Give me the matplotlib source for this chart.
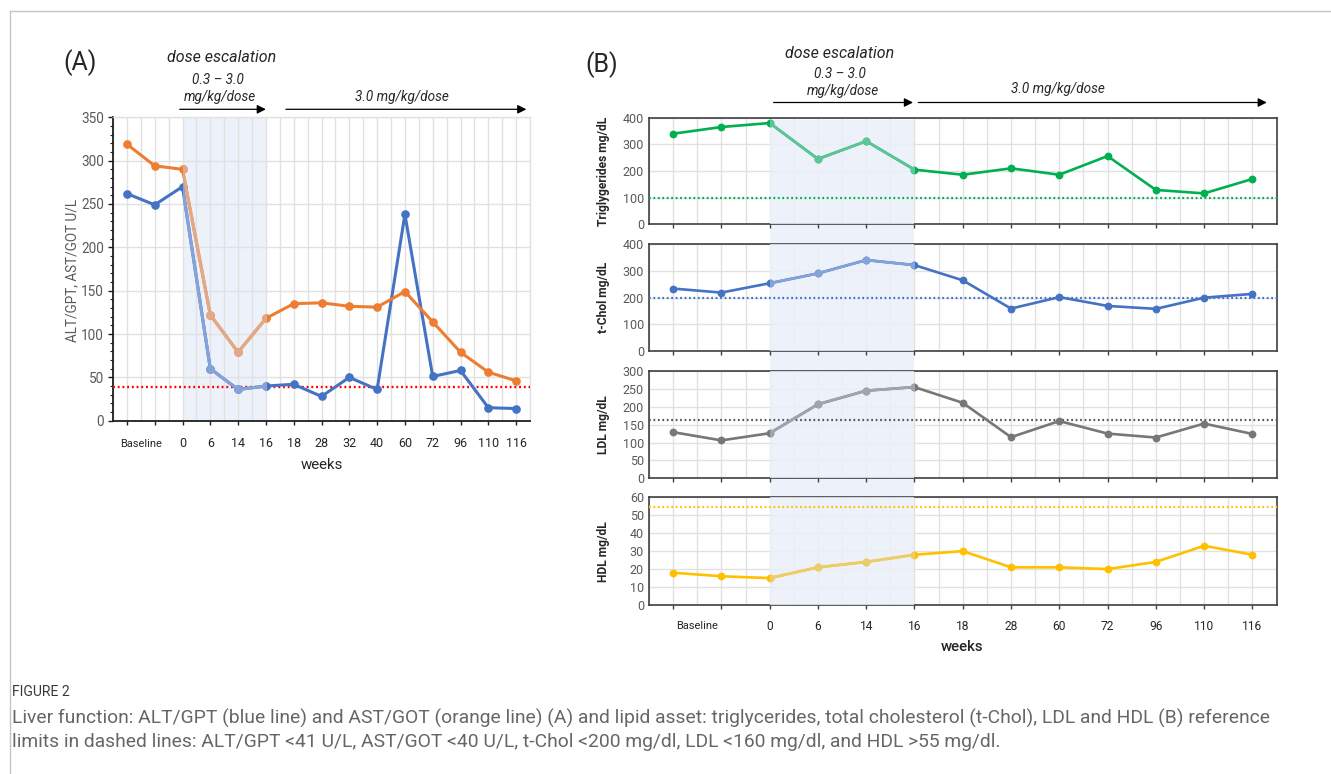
import matplotlib
matplotlib.use('Agg')
import matplotlib.pyplot as plt
import matplotlib.patches as mpatches
import matplotlib.transforms as mtransforms
from matplotlib.lines import Line2D
from matplotlib.ticker import MultipleLocator
import matplotlib.colors as mcolors

# ---------------- data ----------------
weeks_a = ['Baseline', '', '0', '6', '14', '16', '18', '28', '32', '40', '60', '72', '96', '110', '116']
alt_gpt = [262, 249, 270, 60, 36, 40, 42, 28, 50, 36, 238, 51, 58, 15, 14]
ast_got = [319, 294, 290, 122, 79, 118, 135, 136, 132, 131, 149, 114, 79, 56, 46]
ref_a = 39

weeks_b = ['Baseline', '', '0', '6', '14', '16', '18', '28', '60', '72', '96', '110', '116']
trig = [340, 365, 380, 245, 312, 205, 186, 210, 186, 256, 129, 116, 170]
tchol = [234, 219, 254, 291, 341, 322, 265, 159, 202, 169, 158, 200, 214]
ldl = [129, 106, 126, 207, 245, 255, 211, 115, 160, 125, 114, 153, 124]
hdl = [18, 16, 15, 21, 24, 28, 30, 21, 21, 20, 24, 33, 28]
ref_trig, ref_tchol, ref_ldl, ref_hdl = 98, 197, 162, 54.6

caption_title = 'FIGURE 2'
caption_1 = ('Liver function: ALT/GPT (blue line) and AST/GOT (orange line) (A) and lipid asset: '
             'triglycerides, total cholesterol (t-Chol), LDL and HDL (B) reference')
caption_2 = ('limits in dashed lines: ALT/GPT <41 U/L, AST/GOT <40 U/L, t-Chol <200 mg/dl, '
             'LDL <160 mg/dl, and HDL >55 mg/dl.')

# ---------------- style ----------------
W, H, DPI = 1331, 774, 100
FONT = ['Roboto', 'DejaVu Sans']
plt.rcParams['font.family'] = FONT
SHADE = '#EDF2FA'
GRID = '#E1E1E1'
TICKC = '#595959'
DARK = '#404040'
TXT = '#262626'


def pt(px):
    return px * 72.0 / DPI


def fx(x):
    return x / W


def fy(y):
    return 1 - y / H


def rect(l, t, r, b):
    return [l / W, 1 - b / H, (r - l) / W, (b - t) / H]


def lighten(c, a=0.45, over=(210 / 255, 222 / 255, 240 / 255)):
    r, g, b = mcolors.to_rgb(c)
    return tuple(a * o + (1 - a) * v for o, v in zip(over, (r, g, b)))


fig = plt.figure(figsize=(W / DPI, H / DPI), dpi=DPI)
fig.patch.set_facecolor('white')

# frame lines of the figure box
fig.add_artist(Line2D([fx(10), fx(10)], [fy(11), 0], color='#C4C4C4', lw=1.0))
fig.add_artist(Line2D([fx(10), 1], [fy(11), fy(11)], color='#C4C4C4', lw=1.0))


def draw_series(ax, xs, ys, color, lw, ms, s0, s1):
    ax.plot(xs, ys, color=color, lw=lw, marker='o', ms=ms, zorder=4,
            solid_joinstyle='round', solid_capstyle='round')
    ln, = ax.plot(xs, ys, color=lighten(color), lw=lw, marker='o', ms=ms, zorder=5,
                  solid_joinstyle='round', solid_capstyle='round')
    tr = mtransforms.blended_transform_factory(ax.transData, ax.transAxes)
    clip = mpatches.Rectangle((s0, -0.2), s1 - s0, 1.4, transform=tr)
    ln.set_clip_path(clip)


# ================= Panel A =================
xa = list(range(len(weeks_a)))
a0, a1 = weeks_a.index('0'), weeks_a.index('16')
axA = fig.add_axes(rect(113, 117.3, 530, 420.7))
axA.set_xlim(-0.5, len(weeks_a) - 0.5)
axA.set_ylim(0, 350)
axA.set_axisbelow(True)
axA.axvspan(a0, a1, color=SHADE, zorder=0.3, lw=0)
axA.set_yticks(range(0, 351, 50))
axA.yaxis.set_minor_locator(MultipleLocator(10))
axA.set_xticks(xa)
axA.set_xticklabels([l if l != 'Baseline' else '' for l in weeks_a])
axA.xaxis.set_minor_locator(MultipleLocator(0.5))
axA.grid(axis='y', which='major', color=GRID, lw=1.0)
axA.grid(axis='x', which='both', color=GRID, lw=1.0)
for s in ['left', 'bottom']:
    axA.spines[s].set_color('#1F1F1F')
    axA.spines[s].set_linewidth(1.3)
for s in ['top', 'right']:
    axA.spines[s].set_color(GRID)
    axA.spines[s].set_linewidth(1.0)
axA.tick_params(axis='y', which='major', length=pt(5), width=1.0, color='#1F1F1F',
                labelsize=pt(13.5), labelcolor=TICKC, pad=pt(4))
axA.tick_params(axis='y', which='minor', length=pt(3), width=0.8, color='#1F1F1F')
axA.tick_params(axis='x', which='major', length=pt(4), width=1.0, color='#1F1F1F',
                labelsize=pt(12.5), labelcolor=TXT, pad=pt(12))
axA.tick_params(axis='x', which='minor', length=0)
axA.annotate('Baseline', xy=(0.5, 0), xycoords=('data', 'axes fraction'),
             xytext=(0, -pt(23.5)), textcoords='offset points', ha='center', va='center',
             fontsize=pt(11), color=TXT, annotation_clip=False)
axA.axhline(ref_a, color='#FF0000', lw=1.7, ls=(0, (0.8, 1.2)), zorder=3)
draw_series(axA, xa, alt_gpt, '#4472C4', 2.2, 5.2, a0, a1)
draw_series(axA, xa, ast_got, '#ED7D31', 2.2, 5.2, a0, a1)
fig.text(fx(72), fy(270), 'ALT/GPT, AST/GOT U/L', rotation=90, ha='center', va='center',
         fontsize=pt(13.5), color=TICKC)
fig.text(fx(321.5), fy(465), 'weeks', ha='center', va='center', fontsize=pt(15), color=TXT)

# annotations A
fig.text(fx(80), fy(63), '(A)', ha='center', va='center', fontsize=pt(25), color=TXT)
fig.text(fx(222), fy(58), 'dose escalation', ha='center', va='center', fontsize=pt(16),
         style='italic', color=TXT)
fig.text(fx(218), fy(80), '0.3 \u2013 3.0', ha='center', va='center', fontsize=pt(13.5),
         style='italic', color=TXT)
fig.text(fx(220), fy(97), 'mg/kg/dose', ha='center', va='center', fontsize=pt(13.5),
         style='italic', color=TXT)
fig.text(fx(402), fy(97), '3.0 mg/kg/dose', ha='center', va='center', fontsize=pt(13.5),
         style='italic', color=TXT)
arrow_kw = dict(arrowstyle='-|>', color='black', lw=0.9, mutation_scale=13,
                shrinkA=0, shrinkB=0)
axA.annotate('', xy=(a1, fy(109.3)), xytext=(a0 - 0.1, fy(109.3)),
             xycoords=('data', 'figure fraction'), textcoords=('data', 'figure fraction'),
             arrowprops=arrow_kw, annotation_clip=False)
axA.annotate('', xy=(14.37, fy(109.3)), xytext=(a1 + 0.72, fy(109.3)),
             xycoords=('data', 'figure fraction'), textcoords=('data', 'figure fraction'),
             arrowprops=arrow_kw, annotation_clip=False)

# ================= Panel B =================
xb = list(range(len(weeks_b)))
b0, b1 = weeks_b.index('0'), weeks_b.index('16')
panels = [
    (trig, 'Triglygerides mg/dL', 400, 100, ref_trig, '#00B050', (117.7, 224.3), '#00B050'),
    (tchol, 't-Chol mg/dL', 400, 100, ref_tchol, '#4472C4', (244.3, 351.0), '#4472C4'),
    (ldl, 'LDL mg/dL', 300, 50, ref_ldl, '#777777', (371.0, 478.3), '#595959'),
    (hdl, 'HDL mg/dL', 60, 10, ref_hdl, '#FFC000', (497.3, 605.0), '#FFC000'),
]
L, R = 649, 1276.5
axesB = []
for i, (vals, lab, ymax, step, ref, col, (t, b), refcol) in enumerate(panels):
    ax = fig.add_axes(rect(L, t, R, b))
    ax.set_facecolor('none')
    ax.set_xlim(-0.5, len(weeks_b) - 0.5)
    ax.set_ylim(0, ymax)
    ax.set_axisbelow(True)
    ax.set_yticks(range(0, ymax + 1, step))
    ax.set_xticks(xb)
    ax.xaxis.set_minor_locator(MultipleLocator(0.5))
    ax.grid(axis='y', which='major', color=GRID, lw=1.0)
    ax.grid(axis='x', which='both', color=GRID, lw=1.0)
    for s in ax.spines.values():
        s.set_color(DARK)
        s.set_linewidth(1.2)
    ax.tick_params(axis='y', length=0, labelsize=pt(12.5), labelcolor=TICKC, pad=pt(5))
    ax.tick_params(axis='x', which='major', length=pt(4), width=1.0, color=DARK,
                   labelsize=pt(12), labelcolor=TXT, pad=pt(11))
    ax.tick_params(axis='x', which='minor', length=0)
    top_frac = 1.0 if i > 0 else 1 - (120 - t) / (b - t)
    ax.axvspan(b0, b1, ymin=0, ymax=top_frac, color=SHADE, alpha=0.8, zorder=2.6, lw=0)
    ax.axhline(ref, color=refcol, lw=1.6, ls=(0, (0.8, 1.2)), zorder=3)
    draw_series(ax, xb, vals, col, 1.9, 4.6, b0, b1)
    if i < 3:
        ax.set_xticklabels([])
    else:
        ax.set_xticklabels([l if l != 'Baseline' else '' for l in weeks_b])
        ax.annotate('Baseline', xy=(0.5, 0), xycoords=('data', 'axes fraction'),
                    xytext=(0, -pt(21)), textcoords='offset points', ha='center', va='center',
                    fontsize=pt(11), color=TXT, annotation_clip=False)
    fig.text(fx(603), fy((t + b) / 2), lab, rotation=90, ha='center', va='center',
             fontsize=pt(12), color=TXT, fontweight='bold')
    axesB.append(ax)

# shading behind, continuous through the gaps
axT = axesB[0]
trB = mtransforms.blended_transform_factory(axT.transData, fig.transFigure)
fig.add_artist(mpatches.Rectangle((b0, fy(605)), b1 - b0, fy(120) - fy(605),
                                  transform=trB, color=SHADE, lw=0, zorder=-1))

fig.text(fx(962), fy(647), 'weeks', ha='center', va='center', fontsize=pt(15),
         color=TXT, fontweight='medium')

fig.text(fx(602), fy(65), '(B)', ha='center', va='center', fontsize=pt(25), color=TXT)
fig.text(fx(840), fy(53), 'dose escalation', ha='center', va='center', fontsize=pt(16),
         style='italic', color=TXT)
fig.text(fx(840), fy(73.5), '0.3 \u2013 3.0', ha='center', va='center', fontsize=pt(13.5),
         style='italic', color=TXT)
fig.text(fx(843), fy(91.5), 'mg/kg/dose', ha='center', va='center', fontsize=pt(13.5),
         style='italic', color=TXT)
fig.text(fx(1058), fy(89.5), '3.0 mg/kg/dose', ha='center', va='center', fontsize=pt(13.5),
         style='italic', color=TXT)
axT.annotate('', xy=(b1 - 0.03, fy(102.5)), xytext=(b0 + 0.08, fy(102.5)),
             xycoords=('data', 'figure fraction'), textcoords=('data', 'figure fraction'),
             arrowprops=arrow_kw, annotation_clip=False)
axT.annotate('', xy=(12.3, fy(102.5)), xytext=(b1 + 0.08, fy(102.5)),
             xycoords=('data', 'figure fraction'), textcoords=('data', 'figure fraction'),
             arrowprops=arrow_kw, annotation_clip=False)

# ================= caption =================
fig.text(fx(12), fy(692), caption_title, ha='left', va='center', fontsize=pt(14),
         color='#3A3A3A')
c1 = fig.text(fx(12), fy(718), caption_1, ha='left', va='center', fontsize=pt(16.5),
              color='#666666')
c2 = fig.text(fx(12), fy(742), caption_2, ha='left', va='center', fontsize=pt(16.5),
              color='#666666')
fig.canvas.draw()
w1 = c1.get_window_extent().width
scale = 1258.0 / w1
for c in (c1, c2):
    c.set_fontsize(c.get_fontsize() * scale)

fig.savefig('out.png', dpi=DPI)
